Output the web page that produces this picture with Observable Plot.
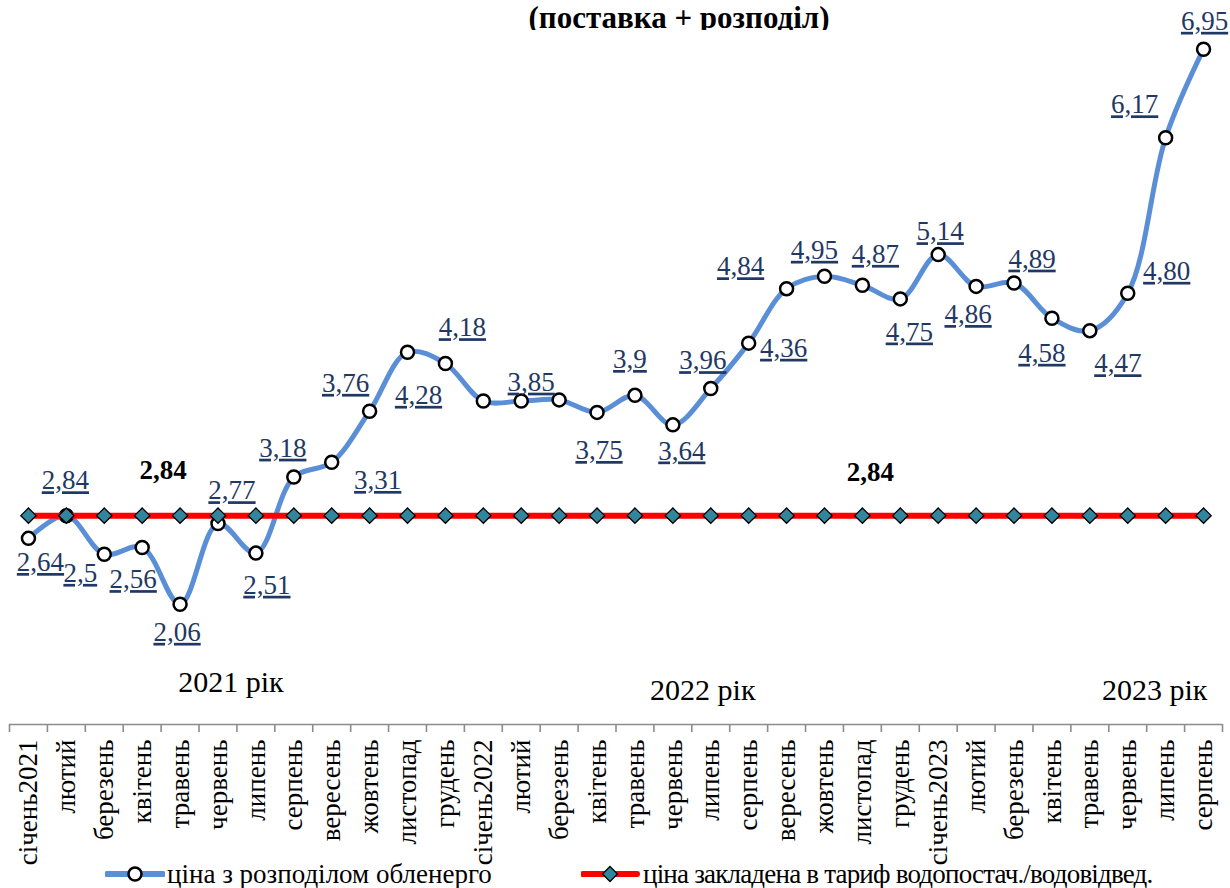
<!DOCTYPE html>
<html><head><meta charset="utf-8">
<script src="https://cdn.jsdelivr.net/npm/d3@7"></script>
<script src="https://cdn.jsdelivr.net/npm/@observablehq/plot@0.6"></script>
<style>
body{margin:0;background:#fff;width:1230px;height:888px;overflow:hidden;position:relative;font-family:"Liberation Serif","Times New Roman",serif;}
#title{position:absolute;top:0;left:679px;transform:translateX(-50%);white-space:nowrap;font-weight:bold;font-size:31px;line-height:36px;color:#000;}
#chart{position:absolute;top:30px;left:0;}
#legend{position:absolute;top:858px;left:0;width:1230px;height:30px;font-size:27px;color:#000;}
.item{position:absolute;top:0;display:flex;align-items:center;height:32px;white-space:nowrap;}
.item svg{margin-right:2px;}
</style></head><body>
<div id="title">(поставка + розподіл)</div>
<div id="chart"></div>
<div id="legend"></div>
<script>
// ---- data ----
const months = ["січень2021","лютий","березень","квітень","травень","червень","липень","серпень","вересень","жовтень","листопад","грудень",
  "січень2022","лютий","березень","квітень","травень","червень","липень","серпень","вересень","жовтень","листопад","грудень",
  "січень2023","лютий","березень","квітень","травень","червень","липень","серпень"];
const priceOblenergo = [2.64,2.84,2.5,2.56,2.06,2.77,2.51,3.18,3.31,3.76,4.28,4.18,
  3.85,3.85,3.86,3.75,3.9,3.64,3.96,4.36,4.84,4.95,4.87,4.75,
  5.14,4.86,4.89,4.58,4.47,4.80,6.17,6.95];
const tariffPrice = [2.84,2.84,2.84,2.84,2.84,2.84,2.84,2.84,2.84,2.84,2.84,2.84,
  2.84,2.84,2.84,2.84,2.84,2.84,2.84,2.84,2.84,2.84,2.84,2.84,
  2.84,2.84,2.84,2.84,2.84,2.84,2.84,2.84];
const oblenergoLabels = ["2,64","2,84","2,5","2,56","2,06","2,77","2,51","3,18","3,31","3,76","4,28","4,18",
  null,"3,85",null,"3,75","3,9","3,64","3,96","4,36","4,84","4,95","4,87","4,75",
  "5,14","4,86","4,89","4,58","4,47","4,80","6,17","6,95"];
const tariffLabelIndex = [4, 22];
const tariffLabelText = ["2,84", "2,84"];
const yearLabels = ["2021 рік", "2022 рік", "2023 рік"];
const yearLabelIndex = [5, 18, 30];
const seriesNames = ["ціна з розподілом обленерго", "ціна закладена в тариф водопостач./водовідвед."];

// ---- layout (pixel offsets of labels, not data) ----
const labelOffsets = [[12,24],[-1,-35],[-24,19],[-9,32],[-3,28],[14,-33],[11,32],[-11,-29],[46,18],[-24,-28],[11,43],[17,-36],
  null,[10,-19],null,[2,38],[-5,-36],[9,26],[-8,-28],[35,5],[-46,-22],[-10,-26],[13,-31],[9,33],
  [2,-23],[-8,28],[18,-24],[-10,35],[28,33],[39,-22],[-31,-33],[1,-28]];
const tariffLabelOffsets = [[-17,-45],[8,-43]];
const yearLabelOffsets = [[13,-42],[-8,-34],[-11,-34]];

const BLUE = "#5A8FD8", RED = "#FF0000", TEAL = "#31859C", NAVY = "#1F3864", AXIS = "#8C8C8C";
const FONT = "Liberation Serif, Times New Roman, serif";
const W = 1230, H = 835, mL = 9, mR = 8, mT = 13, mB = 141;
const step = (W - mL - mR) / months.length;
const idx = d3.range(months.length);
const yMin = 1, yMax = 7;

const marks = [];
// axis line
marks.push(Plot.ruleY([yMin], {stroke: AXIS, strokeWidth: 1.6}));
// boundary ticks
marks.push(Plot.axisX(idx, {tickSize: 8, tickFormat: () => "", dx: -step/2, color: AXIS, strokeWidth: 1.6}));
marks.push(Plot.axisX([idx[idx.length-1]], {tickSize: 8, tickFormat: () => "", dx: step/2, color: AXIS, strokeWidth: 1.6}));
// month labels
marks.push(Plot.axisX(idx, {tickSize: 0, tickPadding: 15, tickRotate: -90, tickFormat: i => months[i], fontSize: 27, fontFamily: FONT, color: "#000"}));
// blue series
marks.push(Plot.line(idx, {x: d => d, y: d => priceOblenergo[d], curve: "catmull-rom", stroke: BLUE, strokeWidth: 5}));
marks.push(Plot.dot(idx, {x: d => d, y: d => priceOblenergo[d], r: 6.5, fill: "white", stroke: "black", strokeWidth: 2.5}));
// red series
marks.push(Plot.line(idx, {x: d => d, y: d => tariffPrice[d], stroke: RED, strokeWidth: 6}));
marks.push(Plot.dot(idx, {x: d => d, y: d => tariffPrice[d], symbol: "diamond2", r: 6.9, fill: TEAL, stroke: "black", strokeWidth: 1.3}));
// data labels
oblenergoLabels.forEach((t, i) => {
  if (!t) return;
  const [dx, dy] = labelOffsets[i];
  marks.push(Plot.text([i], {x: d => d, y: d => priceOblenergo[d], text: () => t, dx, dy, fill: NAVY, fontSize: 27, fontFamily: FONT, lineAnchor: "middle"}));
});
tariffLabelIndex.forEach((i, k) => {
  const [dx, dy] = tariffLabelOffsets[k];
  marks.push(Plot.text([i], {x: d => d, y: d => tariffPrice[d], text: () => tariffLabelText[k], dx, dy, fill: "black", fontWeight: "bold", fontSize: 27, fontFamily: FONT, lineAnchor: "middle"}));
});
yearLabels.forEach((t, k) => {
  const [dx, dy] = yearLabelOffsets[k];
  marks.push(Plot.text([yearLabelIndex[k]], {x: d => d, frameAnchor: "bottom", text: () => t, dx, dy, fill: "black", fontSize: 30, fontFamily: FONT, lineAnchor: "middle"}));
});

const chart = Plot.plot({
  width: W, height: H,
  marginLeft: mL, marginRight: mR, marginTop: mT, marginBottom: mB,
  style: {background: "white", overflow: "visible", fontFamily: FONT},
  x: {type: "band", domain: idx, padding: 0, round: false, axis: null},
  y: {domain: [yMin, yMax], axis: null},
  marks
});
d3.select(chart).selectAll(`g[fill="${NAVY}"] text`).style("text-decoration", "underline");
document.getElementById("chart").appendChild(chart);

// legend
const legend = document.getElementById("legend");
function addItem(left, name, kind, spacing) {
  const item = document.createElement("div");
  item.className = "item";
  item.style.left = left + "px";
  const s = d3.create("svg").attr("width", 60).attr("height", 20);
  if (kind === "circle") {
    s.append("line").attr("x1", 2).attr("x2", 58).attr("y1", 10).attr("y2", 10).attr("stroke", BLUE).attr("stroke-width", 6).attr("stroke-linecap", "round");
    s.append("circle").attr("cx", 30).attr("cy", 10).attr("r", 6.5).attr("fill", "white").attr("stroke", "black").attr("stroke-width", 2.5);
  } else {
    s.append("line").attr("x1", 2).attr("x2", 56).attr("y1", 10).attr("y2", 10).attr("stroke", RED).attr("stroke-width", 6).attr("stroke-linecap", "round");
    s.append("path").attr("d", "M29,2.5L36.5,10L29,17.5L21.5,10Z").attr("fill", TEAL).attr("stroke", "black").attr("stroke-width", 1.3);
  }
  item.appendChild(s.node());
  const span = document.createElement("span");
  span.textContent = name;
  span.style.letterSpacing = spacing + "px";
  item.appendChild(span);
  legend.appendChild(item);
}
addItem(105, seriesNames[0], "circle", 0);
addItem(581, seriesNames[1], "diamond", -0.8);
</script>
</body></html>
